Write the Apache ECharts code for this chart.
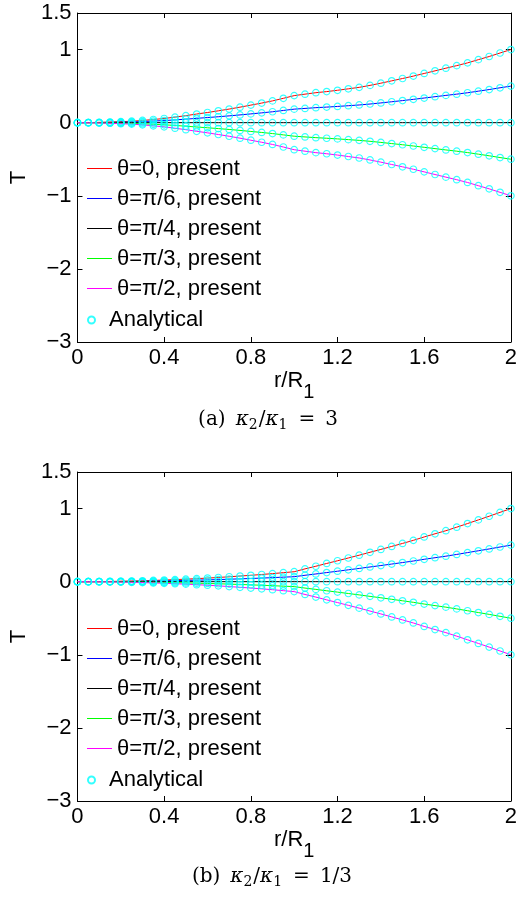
<!DOCTYPE html>
<html><head><meta charset="utf-8">
<script src="https://cdn.jsdelivr.net/npm/echarts@6/dist/echarts.min.js"></script>
<style>html,body{margin:0;padding:0;background:#fff}#c{width:520px;height:897px}</style>
</head><body><div id="c"></div>
<script>
// ---------- data ----------
const rValues = [0,0.05,0.1,0.15,0.2,0.25,0.3,0.35,0.4,0.45,0.5,0.55,0.6,0.65,0.7,0.75,0.8,0.85,0.9,0.95,1,1.05,1.1,1.15,1.2,1.25,1.3,1.35,1.4,1.45,1.5,1.55,1.6,1.65,1.7,1.75,1.8,1.85,1.9,1.95,2];
const seriesNames = ['θ=0, present','θ=π/6, present','θ=π/4, present','θ=π/3, present','θ=π/2, present'];
const analyticalName = 'Analytical';
const xTickLabels = ['0','0.4','0.8','1.2','1.6','2'];
const yTickLabels = ['−3','−2','−1','0','1','1.5'];
const captionA = ['(a) ', 'κ', '2', '/', 'κ', '1', ' = 3'];
const captionB = ['(b) ', 'κ', '2', '/', 'κ', '1', ' = 1/3'];

// (a) kappa2/kappa1 = 3
const a_theta0 = [0,0.001,0.004,0.008,0.014,0.02,0.03,0.043,0.057,0.076,0.096,0.118,0.139,0.162,0.186,0.212,0.24,0.268,0.298,0.333,0.37,0.39,0.41,0.425,0.443,0.463,0.483,0.51,0.54,0.572,0.604,0.637,0.673,0.709,0.745,0.78,0.818,0.862,0.905,0.953,1.0];
const a_theta30 = [0,0.0005,0.002,0.004,0.007,0.01,0.015,0.022,0.029,0.038,0.048,0.059,0.07,0.081,0.093,0.106,0.12,0.134,0.149,0.167,0.185,0.195,0.205,0.213,0.222,0.232,0.242,0.255,0.27,0.286,0.302,0.319,0.337,0.355,0.373,0.39,0.409,0.431,0.453,0.477,0.5];
const a_theta45 = [0,0,0,0,0,0,0,0,0,0,0,0,0,0,0,0,0,0,0,0,0,0,0,0,0,0,0,0,0,0,0,0,0,0,0,0,0,0,0,0,0];
const a_theta60 = [0,-0.0005,-0.002,-0.004,-0.007,-0.01,-0.015,-0.022,-0.029,-0.038,-0.048,-0.059,-0.07,-0.081,-0.093,-0.106,-0.12,-0.134,-0.149,-0.167,-0.185,-0.195,-0.205,-0.213,-0.222,-0.232,-0.242,-0.255,-0.27,-0.286,-0.302,-0.319,-0.337,-0.355,-0.373,-0.39,-0.409,-0.431,-0.453,-0.477,-0.5];
const a_theta90 = [0,-0.001,-0.004,-0.008,-0.014,-0.02,-0.03,-0.043,-0.057,-0.076,-0.096,-0.118,-0.139,-0.162,-0.186,-0.212,-0.24,-0.268,-0.298,-0.333,-0.37,-0.39,-0.41,-0.425,-0.443,-0.463,-0.483,-0.51,-0.54,-0.572,-0.604,-0.637,-0.673,-0.709,-0.745,-0.78,-0.818,-0.862,-0.905,-0.953,-1.0];

// (b) kappa2/kappa1 = 1/3
const b_theta0 = [0,0.0003,0.0014,0.003,0.0055,0.0085,0.012,0.017,0.022,0.028,0.034,0.041,0.049,0.057,0.067,0.077,0.087,0.098,0.11,0.123,0.136,0.175,0.211,0.249,0.286,0.324,0.362,0.402,0.441,0.482,0.523,0.565,0.612,0.655,0.697,0.745,0.795,0.845,0.895,0.948,1.0];
const b_theta30 = [0,0.0002,0.0007,0.0015,0.003,0.004,0.006,0.0085,0.011,0.014,0.017,0.0205,0.0245,0.0285,0.0335,0.0385,0.0435,0.049,0.055,0.0615,0.068,0.0875,0.1055,0.1245,0.143,0.162,0.181,0.201,0.2205,0.241,0.2615,0.2825,0.306,0.3275,0.3485,0.3725,0.3975,0.4225,0.4475,0.474,0.5];
const b_theta45 = [0,0,0,0,0,0,0,0,0,0,0,0,0,0,0,0,0,0,0,0,0,0,0,0,0,0,0,0,0,0,0,0,0,0,0,0,0,0,0,0,0];
const b_theta60 = [0,-0.0002,-0.0007,-0.0015,-0.003,-0.004,-0.006,-0.0085,-0.011,-0.014,-0.017,-0.0205,-0.0245,-0.0285,-0.0335,-0.0385,-0.0435,-0.049,-0.055,-0.0615,-0.068,-0.0875,-0.1055,-0.1245,-0.143,-0.162,-0.181,-0.201,-0.2205,-0.241,-0.2615,-0.2825,-0.306,-0.3275,-0.3485,-0.3725,-0.3975,-0.4225,-0.4475,-0.474,-0.5];
const b_theta90 = [0,-0.0003,-0.0014,-0.003,-0.0055,-0.0085,-0.012,-0.017,-0.022,-0.028,-0.034,-0.041,-0.049,-0.057,-0.067,-0.077,-0.087,-0.098,-0.11,-0.123,-0.136,-0.175,-0.211,-0.249,-0.286,-0.324,-0.362,-0.402,-0.441,-0.482,-0.523,-0.565,-0.612,-0.655,-0.697,-0.745,-0.795,-0.845,-0.895,-0.948,-1.0];

// ---------- chart ----------
const lineColors = ['#ff0000','#0000ff','#000000','#00ff00','#ff00ff'];
const FONT = '"Liberation Sans", Arial, Helvetica, sans-serif';
const SERIF = '"DejaVu Serif", "Liberation Serif", serif';
const panels = [
  {top: 13, sets: [a_theta0,a_theta30,a_theta45,a_theta60,a_theta90], legendTop: 157.5, anaTop: 309},
  {top: 472, sets: [b_theta0,b_theta30,b_theta45,b_theta60,b_theta90], legendTop: 617.5, anaTop: 769}
];
const xVals = [0,0.4,0.8,1.2,1.6,2];
const yVals = [-3,-2,-1,0,1,1.5];
function fmtX(v){ const i = xVals.findIndex(t => Math.abs(t - v) < 1e-6); return i >= 0 ? xTickLabels[i] : ''; }
function fmtY(v){ const i = yVals.findIndex(t => Math.abs(t - v) < 1e-6); return i >= 0 ? yTickLabels[i] : ''; }

const axisLine = {onZero: false, lineStyle: {color: '#000', width: 1}};
const axisTick = {inside: true, length: 5, lineStyle: {color: '#000', width: 1}};
const grid = [], xAxis = [], yAxis = [], series = [], legend = [];

panels.forEach((p, gi) => {
  grid.push({left: 75, right: 7, top: p.top, height: 329});
  xAxis.push({gridIndex: gi, type: 'value', min: 0, max: 2, interval: 0.4, position: 'bottom',
    axisLine, axisTick, splitLine: {show: false},
    axisLabel: {formatter: fmtX, fontSize: 22, fontFamily: FONT, color: '#000', margin: 5},
    name: '{m|r/R}{s|1}', nameLocation: 'middle', nameGap: 28,
    nameTextStyle: {rich: {
      m: {fontSize: 22, fontFamily: FONT, color: '#000', lineHeight: 22, verticalAlign: 'top'},
      s: {fontSize: 20, fontFamily: FONT, color: '#000', padding: [12, 0, 0, 0], verticalAlign: 'bottom'}
    }}
  });
  xAxis.push({gridIndex: gi, type: 'value', min: 0, max: 2, interval: 0.4, position: 'top',
    axisLine, axisTick, splitLine: {show: false}, axisLabel: {show: false}});
  yAxis.push({gridIndex: gi, type: 'value', min: -3, max: 1.5, interval: 1, position: 'left',
    axisLine, axisTick, splitLine: {show: false},
    axisLabel: {formatter: fmtY, fontSize: 22, fontFamily: FONT, color: '#000', margin: 6},
    name: 'T', nameLocation: 'middle', nameRotate: 90, nameGap: 40,
    nameTextStyle: {fontSize: 22, fontFamily: FONT, color: '#000'}
  });
  yAxis.push({gridIndex: gi, type: 'value', min: -3, max: 1.5, interval: 1, position: 'right',
    axisLine, axisTick, splitLine: {show: false}, axisLabel: {show: false}});

  p.sets.forEach((vals, k) => {
    series.push({
      name: seriesNames[k], type: 'line', xAxisIndex: gi * 2, yAxisIndex: gi * 2,
      data: rValues.map((x, i) => [x, vals[i]]),
      symbol: 'none', showSymbol: false, smooth: false,
      lineStyle: {color: lineColors[k], width: 1}, itemStyle: {color: lineColors[k]},
      z: 2, animation: false, silent: true
    });
  });
  const pts = [];
  p.sets.forEach(vals => rValues.forEach((x, i) => pts.push([x, vals[i]])));
  series.push({
    name: analyticalName, type: 'scatter', xAxisIndex: gi * 2, yAxisIndex: gi * 2,
    data: pts, symbol: 'circle', symbolSize: 6.5,
    itemStyle: {color: 'rgba(0,0,0,0)', borderColor: '#00ffff', borderWidth: 1.2},
    z: 3, animation: false, silent: true
  });

  const lt = {fontSize: 22, lineHeight: 22, fontFamily: FONT, color: '#000'};
  legend.push({data: seriesNames.map(n => ({name: n, icon: 'rect'})), orient: 'vertical', left: 87, top: p.legendTop, padding: 0,
    itemWidth: 25, itemHeight: 1, itemGap: 8, selectedMode: false, textStyle: lt});
  legend.push({data: [analyticalName], orient: 'vertical', left: 87, top: p.anaTop, padding: 0,
    itemWidth: 25, itemHeight: 7, itemGap: 8, selectedMode: false, textStyle: lt});
});

function caption(parts, cx, cy){
  const keys = ['p','k','s','p','k','s','p'];
  return {type: 'text', x: cx, y: cy, silent: true, style: {
    text: parts.map((t, i) => '{' + keys[i] + '|' + t.replace(/ /g, '\u2002') + '}').join(''),
    align: 'center', verticalAlign: 'middle',
    rich: {
      p: {fontFamily: SERIF, fontSize: 20, lineHeight: 21, verticalAlign: 'top', fill: '#000'},
      k: {fontFamily: SERIF, fontSize: 20, lineHeight: 21, fontStyle: 'italic', verticalAlign: 'top', fill: '#000'},
      s: {fontFamily: SERIF, fontSize: 14, padding: [9, 1, 0, 0], verticalAlign: 'bottom', fill: '#000'}
    }
  }};
}

const chart = echarts.init(document.getElementById('c'), null, {renderer: 'canvas'});
chart.setOption({
  animation: false,
  backgroundColor: '#fff',
  grid, xAxis, yAxis, series, legend,
  graphic: [caption(captionA, 268, 421), caption(captionB, 272, 878)]
});
</script></body></html>
